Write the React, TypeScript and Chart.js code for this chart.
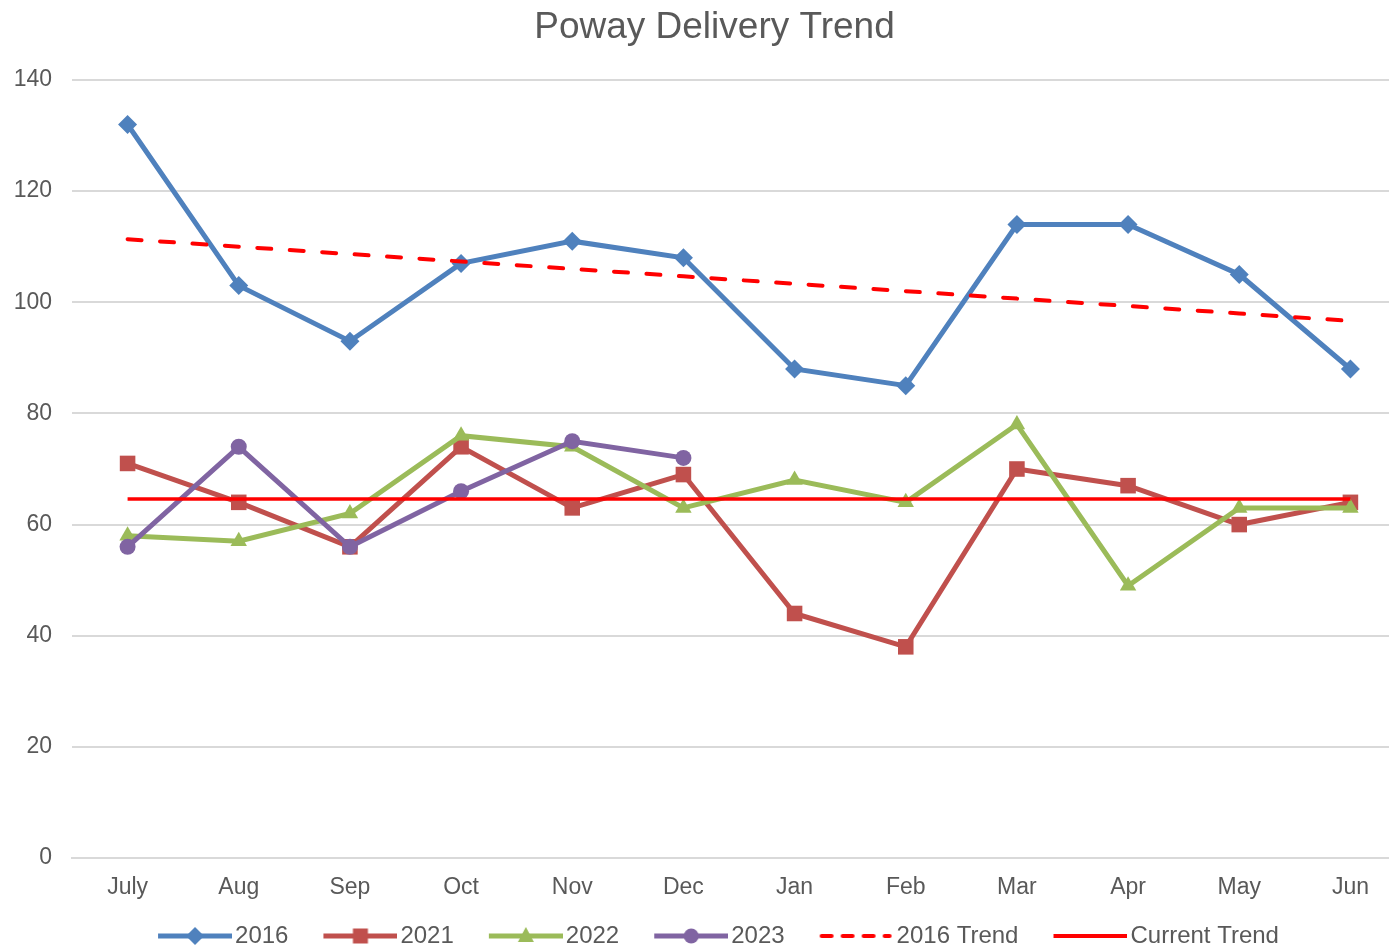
import React, { useEffect, useRef } from "react";
import { Chart, registerables } from "chart.js";

Chart.register(...registerables);

const months = ["July", "Aug", "Sep", "Oct", "Nov", "Dec", "Jan", "Feb", "Mar", "Apr", "May", "Jun"];
const series2016 = [132, 103, 93, 107, 111, 108, 88, 85, 114, 114, 105, 88];
const series2021 = [71, 64, 56, 74, 63, 69, 44, 38, 70, 67, 60, 64];
const series2022 = [58, 57, 62, 76, 74, 63, 68, 64, 78, 49, 63, 63];
const series2023 = [56, 74, 56, 66, 75, 72];
const trend2016 = [111.35, 110.01, 108.68, 107.34, 106.01, 104.67, 103.33, 102.0, 100.66, 99.33, 97.99, 96.65];
const currentTrend = [64.6, 64.6, 64.6, 64.6, 64.6, 64.6, 64.6, 64.6, 64.6, 64.6, 64.6, 64.6];
const yTickValues = [0, 20, 40, 60, 80, 100, 120, 140];

const FONT = "'Liberation Sans', Arial, sans-serif";
const TEXT = "#595959";
const GRID = "#D9D9D9";

const C2016 = "#4F81BD";
const C2021 = "#C0504D";
const C2022 = "#9BBB59";
const C2023 = "#8064A2";
const RED = "#FF0000";

const LEGEND_BOX = 82;
const LEGEND_PAD = 18;
const IMG_W = LEGEND_BOX + 18;

function drawMarker(ctx: CanvasRenderingContext2D, kind: string, x: number, y: number, color: string) {
  ctx.fillStyle = color;
  ctx.beginPath();
  if (kind === "diamond") {
    const r = 9;
    ctx.moveTo(x, y - r);
    ctx.lineTo(x + r, y);
    ctx.lineTo(x, y + r);
    ctx.lineTo(x - r, y);
  } else if (kind === "square") {
    const s = 7.5;
    ctx.rect(x - s, y - s, 2 * s, 2 * s);
  } else if (kind === "triangle") {
    ctx.moveTo(x, y - 9);
    ctx.lineTo(x + 8, y + 6);
    ctx.lineTo(x - 8, y + 6);
  } else if (kind === "circle") {
    ctx.arc(x, y, 7.5, 0, Math.PI * 2);
  }
  ctx.closePath();
  ctx.fill();
}

function makeLegendImage(color: string, kind: string, dashed: boolean, width: number) {
  const c = document.createElement("canvas");
  c.width = IMG_W;
  c.height = 20;
  const ctx = c.getContext("2d") as CanvasRenderingContext2D;
  ctx.strokeStyle = color;
  ctx.lineWidth = width;
  const start = IMG_W - 74;
  if (dashed) {
    ctx.setLineDash([10, 11]);
    ctx.lineCap = "round";
  }
  ctx.beginPath();
  ctx.moveTo(dashed ? start + 2 : start, 10);
  ctx.lineTo(dashed ? IMG_W - 4 : IMG_W, 10);
  ctx.stroke();
  if (kind) drawMarker(ctx, kind, IMG_W - 37, 10, color);
  return c;
}

const titleShift = {
  id: "titleShift",
  afterLayout(chart: any) {
    const t = chart.titleBlock;
    if (t) {
      t.left += 4.5;
      t.right += 4.5;
    }
  },
};

export default function App() {
  const ref = useRef<HTMLCanvasElement | null>(null);

  useEffect(() => {
    if (!ref.current) return;
    Chart.defaults.font.family = FONT;
    const legendDefs = [
      { label: "2016", img: makeLegendImage(C2016, "diamond", false, 5) },
      { label: "2021", img: makeLegendImage(C2021, "square", false, 5) },
      { label: "2022", img: makeLegendImage(C2022, "triangle", false, 5) },
      { label: "2023", img: makeLegendImage(C2023, "circle", false, 5) },
      { label: "2016 Trend", img: makeLegendImage(RED, "", true, 4) },
      { label: "Current Trend", img: makeLegendImage(RED, "", false, 4) },
    ];

    const chart = new Chart(ref.current, {
      type: "line",
      data: {
        labels: months,
        datasets: [
          {
            label: "2016",
            data: series2016,
            borderColor: C2016,
            backgroundColor: C2016,
            borderWidth: 5,
            pointStyle: "rectRot",
            pointRadius: 9.5,
            pointBorderWidth: 0,
            order: 5,
          },
          {
            label: "2021",
            data: series2021,
            borderColor: C2021,
            backgroundColor: C2021,
            borderWidth: 5,
            pointStyle: "rect",
            pointRadius: 11,
            pointBorderWidth: 0,
            order: 4,
          },
          {
            label: "2022",
            data: series2022,
            borderColor: C2022,
            backgroundColor: C2022,
            borderWidth: 5,
            pointStyle: "triangle",
            pointRadius: 9.5,
            pointBorderWidth: 0,
            order: 3,
          },
          {
            label: "2023",
            data: series2023,
            borderColor: C2023,
            backgroundColor: C2023,
            borderWidth: 5,
            pointStyle: "circle",
            pointRadius: 8,
            pointBorderWidth: 0,
            order: 2,
          },
          {
            label: "2016 Trend",
            data: trend2016,
            borderColor: RED,
            backgroundColor: RED,
            borderWidth: 4,
            borderDash: [14, 18.5],
            borderCapStyle: "round",
            pointRadius: 0,
            order: 1,
          },
          {
            label: "Current Trend",
            data: currentTrend,
            borderColor: RED,
            backgroundColor: RED,
            borderWidth: 3.5,
            pointRadius: 0,
            order: 0,
          },
        ],
      },
      options: {
        responsive: false,
        animation: false,
        devicePixelRatio: 1,
        layout: { autoPadding: false, padding: { left: 14, right: 0, top: 0, bottom: 0 } },
        plugins: {
          title: {
            display: true,
            text: "Poway Delivery Trend",
            color: TEXT,
            font: { family: FONT, size: 37, weight: "normal" },
            padding: { top: 6, bottom: 29.6 },
          },
          legend: {
            position: "bottom",
            labels: {
              usePointStyle: true,
              pointStyleWidth: LEGEND_BOX,
              padding: LEGEND_PAD,
              color: TEXT,
              font: { family: FONT, size: 24 },
              generateLabels: (ch: any) =>
                legendDefs.map((d, i) => ({
                  text: d.label,
                  fillStyle: "transparent",
                  strokeStyle: "transparent",
                  lineWidth: 0,
                  pointStyle: d.img,
                  hidden: !ch.isDatasetVisible(i),
                  datasetIndex: i,
                  fontColor: TEXT,
                })),
            },
          },
          tooltip: { enabled: false },
        },
        scales: {
          x: {
            offset: true,
            grid: { display: false, drawTicks: false, offset: true },
            border: { display: true, color: GRID, width: 2 },
            ticks: { color: TEXT, font: { family: FONT, size: 23 }, padding: 16, maxRotation: 0, autoSkip: false },
            afterFit: (s: any) => {
              s.height = 48;
              s.paddingLeft = 0;
              s.paddingRight = 0;
            },
          },
          y: {
            min: 0,
            max: 140,
            afterBuildTicks: (s: any) => {
              s.ticks = yTickValues.map((v) => ({ value: v }));
            },
            grid: { color: GRID, lineWidth: 2, drawTicks: false },
            border: { display: false },
            ticks: { color: TEXT, font: { family: FONT, size: 23 }, padding: 20 },
            afterFit: (s: any) => {
              s.width = 58;
            },
          },
        },
      },
      plugins: [titleShift],
    });
    return () => chart.destroy();
  }, []);

  return (
    <div
      style={{
        position: "fixed",
        left: 0,
        top: 0,
        width: 1389,
        height: 950,
        overflow: "hidden",
        background: "#ffffff",
      }}
    >
      <canvas ref={ref} width={1406} height={958} style={{ width: 1406, height: 958, display: "block" }} />
    </div>
  );
}
